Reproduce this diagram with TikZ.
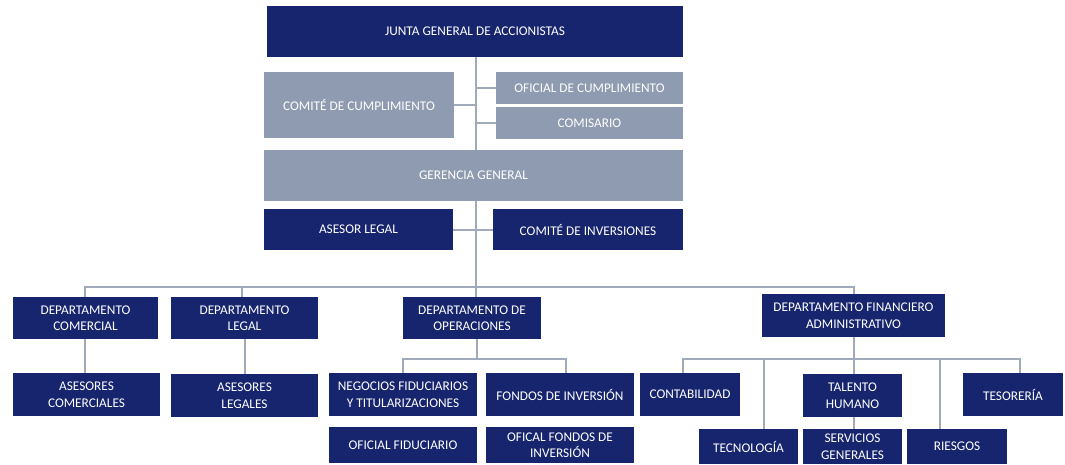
\documentclass[tikz,border=0pt]{standalone}
\usepackage{fontspec}
\setmainfont{Carlito}
\definecolor{navy}{RGB}{23,37,110}
\definecolor{slate}{RGB}{142,155,176}
\definecolor{linec}{RGB}{160,170,188}
\tikzset{
  darkbox/.style={fill=navy, text=white, inner sep=1pt, align=center, font=\fontsize{13.3}{16.5}\selectfont},
  lightbox/.style={fill=slate, text=white, inner sep=1pt, align=center, font=\fontsize{13.3}{16.5}\selectfont},
  conn/.style={draw=linec, line width=2pt}
}
\newcommand\orgbox[7]{\node[#2, minimum width={(#5-#3)*1pt}, minimum height={(#6-#4)*1pt}] (#1) at ({(#3+#5)/2},{(#4+#6)/2}) {#7};}
\begin{document}
\begin{tikzpicture}[x=1pt,y=-1pt]
\useasboundingbox (0,0) rectangle (1065,464);
\coordinate (spine) at (476,0);
\coordinate (busy) at (0,287);
\coordinate (opsbus) at (0,359);
\coordinate (finbus) at (0,359);
\coordinate (xcom) at (85,0);
\coordinate (xleg) at (242,0);
\coordinate (xfin) at (854,0);
\coordinate (xneg) at (403,0);
\coordinate (xfon) at (566,0);
\coordinate (xcon) at (683,0);
\coordinate (xtec) at (764,0);
\coordinate (xrie) at (940,0);
\coordinate (xtes) at (1020,0);
\coordinate (xops) at (477,0);

\orgbox{junta}{darkbox}{267}{6}{683}{57}{JUNTA GENERAL DE ACCIONISTAS}
\orgbox{comcum}{lightbox}{264}{72}{454}{138}{COMITÉ DE CUMPLIMIENTO}
\orgbox{ofi}{lightbox}{496}{72}{683}{104}{OFICIAL DE CUMPLIMIENTO}
\orgbox{comis}{lightbox}{496}{107}{683}{139}{COMISARIO}
\orgbox{ger}{lightbox}{264}{150}{683}{201}{GERENCIA GENERAL}
\orgbox{asleg}{darkbox}{264}{209}{453}{250}{ASESOR LEGAL}
\orgbox{cominv}{darkbox}{493}{209}{683}{250}{COMITÉ DE INVERSIONES}
\orgbox{dcom}{darkbox}{13}{297}{158}{339}{DEPARTAMENTO\\COMERCIAL}
\orgbox{dleg}{darkbox}{171}{297}{318}{339}{DEPARTAMENTO\\LEGAL}
\orgbox{dops}{darkbox}{403}{297}{541}{339}{DEPARTAMENTO DE\\OPERACIONES}
\orgbox{dfin}{darkbox}{762}{294}{945}{337}{DEPARTAMENTO FINANCIERO\\ADMINISTRATIVO}
\orgbox{ascom}{darkbox}{13}{373}{160}{416}{ASESORES\\COMERCIALES}
\orgbox{aslegs}{darkbox}{171}{374}{318}{417}{ASESORES\\LEGALES}
\orgbox{neg}{darkbox}{329}{373}{477}{416}{NEGOCIOS FIDUCIARIOS\\Y TITULARIZACIONES}
\orgbox{fondos}{darkbox}{486}{373}{634}{416}{FONDOS DE INVERSIÓN}
\orgbox{offid}{darkbox}{329}{427}{477}{463}{OFICIAL FIDUCIARIO}
\orgbox{offon}{darkbox}{486}{427}{634}{463}{OFICAL FONDOS DE\\INVERSIÓN}
\orgbox{contab}{darkbox}{640}{373}{740}{416}{CONTABILIDAD}
\orgbox{tecno}{darkbox}{699}{429}{798}{464}{TECNOLOGÍA}
\orgbox{talento}{darkbox}{803}{374}{902}{417}{TALENTO\\HUMANO}
\orgbox{servi}{darkbox}{803}{429}{902}{464}{SERVICIOS\\GENERALES}
\orgbox{riesgos}{darkbox}{907}{429}{1007}{464}{RIESGOS}
\orgbox{teso}{darkbox}{963}{373}{1063}{416}{TESORERÍA}

% top spine
\draw[conn] (spine |- junta.south) -- (spine |- ger.north);
\draw[conn] (comcum.east) -- (comcum.east -| spine);
\draw[conn] (ofi.west) -- (ofi.west -| spine);
\draw[conn] (comis.west) -- (comis.west -| spine);
\draw[conn] (spine |- ger.south) -- (spine |- dops.north);
\draw[conn] (asleg.east) -- (cominv.west);
% main bus
\draw[conn] (xcom |- dcom.north) -- (xcom |- busy) -- (xfin |- busy) -- (xfin |- dfin.north);
\draw[conn] (xleg |- busy) -- (xleg |- dleg.north);
% left branches
\draw[conn] (xcom |- dcom.south) -- (xcom |- ascom.north);
\draw[conn] (dleg.south) -- (aslegs.north);
% operations
\draw[conn] (xops |- dops.south) -- (xops |- opsbus);
\draw[conn] (xneg |- neg.north) -- (xneg |- opsbus) -- (xfon |- opsbus) -- (xfon |- fondos.north);
% finance
\draw[conn] (xfin |- dfin.south) -- (xfin |- talento.north);
\draw[conn] (xcon |- contab.north) -- (xcon |- finbus) -- (xtes |- finbus) -- (xtes |- teso.north);
\draw[conn] (xtec |- finbus) -- (xtec |- tecno.north);
\draw[conn] (xrie |- finbus) -- (xrie |- riesgos.north);
\draw[conn] (xfin |- talento.south) -- (xfin |- servi.north);
\end{tikzpicture}
\end{document}
